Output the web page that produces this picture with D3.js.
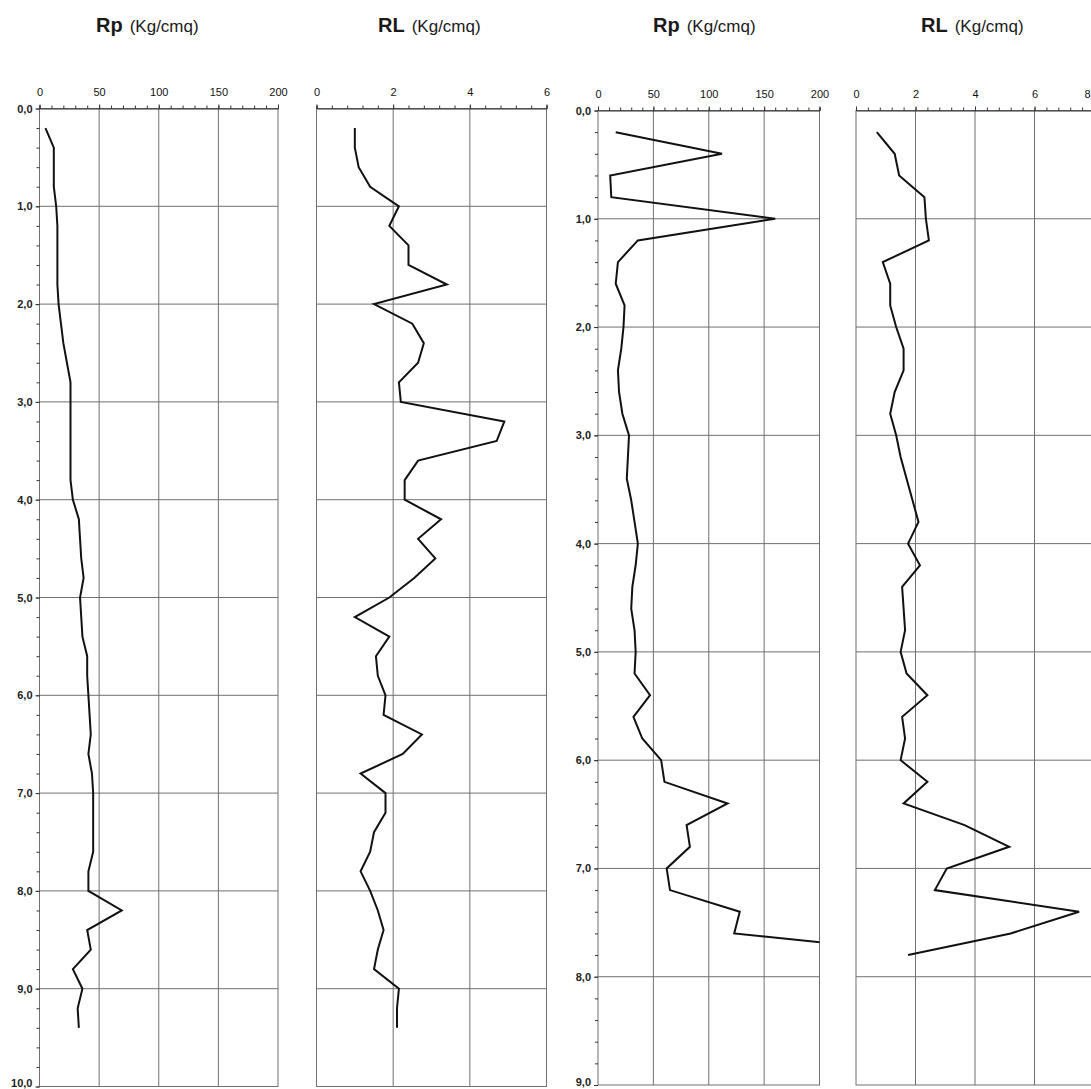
<!DOCTYPE html>
<html>
<head>
<meta charset="utf-8">
<script src="https://cdn.jsdelivr.net/npm/d3@7"></script>
<style>
  html, body { margin: 0; padding: 0; background: #fff; }
  svg { display: block; font-family: "Liberation Sans", Arial, sans-serif; }
</style>
</head>
<body>
<svg id="chart" width="1091" height="1089"></svg>
<script>
// ---------------- DATA ----------------
// Test 1 (left pair): depth (m) and readings
const depth1 = [0.2,0.4,0.6,0.8,1.0,1.2,1.4,1.6,1.8,2.0,2.2,2.4,2.6,2.8,3.0,3.2,3.4,3.6,3.8,4.0,
                4.2,4.4,4.6,4.8,5.0,5.2,5.4,5.6,5.8,6.0,6.2,6.4,6.6,6.8,7.0,7.2,7.4,7.6,7.8,8.0,
                8.2,8.4,8.6,8.8,9.0,9.2,9.4];
const rp1 = [5,12,12,12,14,15,15,15,15,16,18,20,23,26,26,26,26,26,26,28,
             33,34,35,37,34,35,36,40,40,41,42,43,41,44,45,45,45,45,41,41,
             69,40,43,28,36,32,33];
const rl1 = [1.0,1.0,1.1,1.4,2.15,1.9,2.4,2.4,3.4,1.5,2.5,2.8,2.65,2.15,2.2,4.9,4.7,2.65,2.3,2.3,
             3.25,2.65,3.1,2.55,1.9,1.0,1.9,1.55,1.6,1.8,1.75,2.75,2.25,1.15,1.8,1.8,1.5,1.4,1.15,1.4,
             1.6,1.75,1.6,1.5,2.15,2.1,2.1];

// Test 2 (right pair)
const depth2 = [0.2,0.4,0.6,0.8,1.0,1.2,1.4,1.6,1.8,2.0,2.2,2.4,2.6,2.8,3.0,3.2,3.4,3.6,3.8,4.0,
                4.2,4.4,4.6,4.8,5.0,5.2,5.4,5.6,5.8,6.0,6.2,6.4,6.6,6.8,7.0,7.2,7.4,7.6,7.8];
const rp2 = [16,112,11,12,160,36,18,16,24,23,21,18,19,22,28,27,26,30,33,36,
             34,31,30,33,34,33,47,32,40,57,60,117,80,83,62,65,128,123,315];
const rl2 = [0.7,1.3,1.45,2.3,2.35,2.45,0.9,1.15,1.15,1.35,1.6,1.6,1.3,1.15,1.35,1.5,1.7,1.9,2.1,1.75,
             2.15,1.55,1.6,1.65,1.5,1.7,2.4,1.55,1.65,1.5,2.4,1.6,3.65,5.15,3.05,2.65,7.5,5.2,1.75];

// Axis ticks
const rpTicks = [0,50,100,150,200];
const rlTicks1 = [0,2,4,6];
const rlTicks2 = [0,2,4,6,8];
const depthTicks1 = [0,1,2,3,4,5,6,7,8,9,10];
const depthTicks2 = [0,1,2,3,4,5,6,7,8,9];
const titleMain = ["Rp","RL","Rp","RL"];
const titleUnit = "(Kg/cmq)";

// ---------------- LAYOUT ----------------
const panels = [
  { name: titleMain[0], depth: depth1, vals: rp1, xDom: [0,200], xRange: [39.5,278],  yDom: [0,10], yRange: [108.5,1086.5],
    xTicks: rpTicks,  xMinorStep: 10,  yTicks: depthTicks1, yLabels: true, titleX: 96 },
  { name: titleMain[1], depth: depth1, vals: rl1, xDom: [0,6],   xRange: [316.5,546.5], yDom: [0,10], yRange: [108.5,1086.5],
    xTicks: rlTicks1, xMinorStep: 0.4, yTicks: depthTicks1, yLabels: false, titleX: 378 },
  { name: titleMain[2], depth: depth2, vals: rp2, xDom: [0,200], xRange: [598,819.5],  yDom: [0,9], yRange: [110.5,1085],
    xTicks: rpTicks,  xMinorStep: 10,  yTicks: depthTicks2, yLabels: true, titleX: 653 },
  { name: titleMain[3], depth: depth2, vals: rl2, xDom: [0,8],   xRange: [856,1094],   yDom: [0,9], yRange: [110.5,1085],
    xTicks: rlTicks2, xMinorStep: 0.4, yTicks: depthTicks2, yLabels: false, titleX: 921 }
];

const gridColor = "#707070";
const tickColor = "#333";
const lineColor = "#111";
const itFmt = d3.formatLocale({decimal: ",", thousands: ".", grouping: [3], currency: ["", "€"]}).format(".1f");
const W = 1091, H = 1089;

const svg = d3.select("#chart");

panels.forEach((p, i) => {
  const x = d3.scaleLinear().domain(p.xDom).range(p.xRange);
  const y = d3.scaleLinear().domain(p.yDom).range(p.yRange);
  const g = svg.append("g").attr("class", "panel panel-" + i);
  const [x0, x1] = p.xRange;
  const [y0, y1] = p.yRange;

  // Title
  const t = svg.append("text")
    .attr("x", p.titleX).attr("y", 32)
    .attr("fill", "#1a1a1a");
  t.append("tspan").text(p.name).attr("font-size", 20).attr("font-weight", "bold");
  t.append("tspan").text(titleUnit).attr("font-size", 17).attr("dx", 7);

  // clip
  const clipId = "clip" + i;
  svg.append("clipPath").attr("id", clipId)
    .append("rect").attr("x", x0).attr("y", y0).attr("width", x1 - x0).attr("height", y1 - y0);

  // Vertical grid lines (interior majors)
  g.selectAll("line.vgrid").data(p.xTicks.filter(v => v > p.xDom[0] && v < p.xDom[1]))
    .join("line").attr("class", "vgrid")
    .attr("x1", d => x(d)).attr("x2", d => x(d)).attr("y1", y0).attr("y2", y1)
    .attr("stroke", gridColor).attr("stroke-width", 1);

  // Horizontal grid lines
  g.selectAll("line.hgrid").data(p.yTicks.filter(v => v > p.yDom[0] && v < p.yDom[1]))
    .join("line").attr("class", "hgrid")
    .attr("x1", x0).attr("x2", x1).attr("y1", d => y(d)).attr("y2", d => y(d))
    .attr("stroke", gridColor).attr("stroke-width", 1);

  // Frame
  g.append("rect").attr("x", x0).attr("y", y0).attr("width", x1 - x0).attr("height", y1 - y0)
    .attr("fill", "none").attr("stroke", gridColor).attr("stroke-width", 1);

  // Top axis: minor ticks
  const nMinor = Math.round((p.xDom[1] - p.xDom[0]) / p.xMinorStep);
  const minorVals = d3.range(nMinor + 1).map(k => p.xDom[0] + k * p.xMinorStep);
  const topMinor = g.append("g").attr("transform", `translate(0,${y0})`)
    .call(d3.axisTop(x).tickValues(minorVals).tickSize(3).tickFormat(""));
  topMinor.select(".domain").attr("stroke", tickColor);
  topMinor.selectAll(".tick line").attr("stroke", tickColor);

  // Top axis: major labels
  const topMajor = g.append("g").attr("transform", `translate(0,${y0})`)
    .call(d3.axisTop(x).tickValues(p.xTicks).tickSize(4).tickPadding(9).tickFormat(d3.format("d")));
  topMajor.select(".domain").remove();
  topMajor.selectAll(".tick line").attr("stroke", tickColor);
  topMajor.selectAll(".tick text").attr("font-size", 11).attr("fill", "#111")
    .attr("font-family", "'Liberation Sans', Arial, sans-serif")
    // a label at the very right edge is kept inside the picture
    .attr("text-anchor", d => (x(d) + 4 > W ? "end" : "middle"))
    .attr("x", d => (x(d) + 4 > W ? (W - 1) - x(d) : 0));

  // Left axis (depth)
  if (p.yLabels) {
    const nY = Math.round((p.yDom[1] - p.yDom[0]) / 0.2);
    const yMinor = d3.range(nY + 1).map(k => +(p.yDom[0] + k * 0.2).toFixed(1));
    const leftMinor = g.append("g").attr("transform", `translate(${x0},0)`)
      .call(d3.axisLeft(y).tickValues(yMinor).tickSize(3).tickFormat(""));
    leftMinor.select(".domain").remove();
    leftMinor.selectAll(".tick line").attr("stroke", tickColor);
    const leftMajor = g.append("g").attr("transform", `translate(${x0},0)`)
      .call(d3.axisLeft(y).tickValues(p.yTicks).tickSize(4).tickPadding(3).tickFormat(itFmt));
    leftMajor.select(".domain").remove();
    leftMajor.selectAll(".tick line").attr("stroke", tickColor);
    leftMajor.selectAll(".tick text").attr("font-size", 11).attr("font-weight", "bold").attr("fill", "#222")
      .attr("font-family", "'Liberation Sans', Arial, sans-serif")
      // keep the lowest label inside the picture, as in the reference
      .attr("dy", d => (y(d) + 6 > H ? "0em" : "0.32em"));
  }

  // Data line
  const data = p.depth.map((d, k) => ({ d, v: p.vals[k] }));
  g.append("path").datum(data)
    .attr("clip-path", `url(#${clipId})`)
    .attr("fill", "none").attr("stroke", lineColor).attr("stroke-width", 2)
    .attr("stroke-linejoin", "miter")
    .attr("d", d3.line().x(o => x(o.v)).y(o => y(o.d)));
});
</script>
</body>
</html>
